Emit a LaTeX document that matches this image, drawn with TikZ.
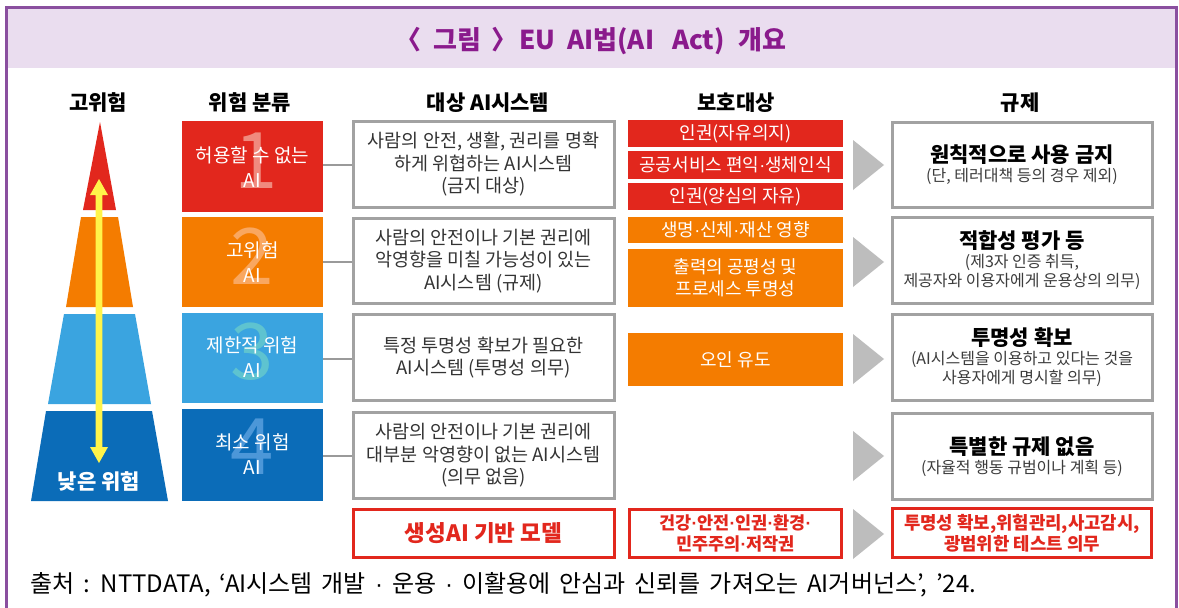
\documentclass[tikz,border=0pt]{standalone}
\usepackage{fontspec}
\setmainfont{Noto Sans CJK KR}
\newfontfamily\lat{Liberation Sans}
\newcommand{\myfs}[2]{\fontsize{#1}{#2}\selectfont}
\newcommand{\md}{{\lat ·}}
\definecolor{framepurple}{HTML}{8A4F9F}
\definecolor{band}{HTML}{EADDEF}
\definecolor{titlepurple}{HTML}{8A1A8C}
\definecolor{redA}{HTML}{E2271D}
\definecolor{orangeA}{HTML}{F47C00}
\definecolor{blueL}{HTML}{3AA4E0}
\definecolor{blueD}{HTML}{0B6CB8}
\definecolor{yel}{HTML}{FFF44A}
\definecolor{boxgrey}{HTML}{A2A2A2}
\definecolor{conngrey}{HTML}{9A9A9A}
\definecolor{trigrey}{HTML}{BDBDBD}
\definecolor{textgrey}{HTML}{333333}
\definecolor{subgrey}{HTML}{3C3C3C}
\definecolor{nA}{HTML}{F08A7E}
\definecolor{nB}{HTML}{F9A760}
\definecolor{nC}{HTML}{5EC3D0}
\definecolor{nD}{HTML}{4C97D8}
\tikzset{
 hdr/.style={font=\myfs{21}{24}\bfseries, text=black},
 catbox/.style={minimum width=141, minimum height=90, inner sep=0},
 numlbl/.style={font=\myfs{78}{78}, inner sep=0},
 cattxt/.style={text=white, align=center, font=\myfs{19}{25}, inner sep=0},
 sysbox/.style={draw=boxgrey, line width=3, fill=white, minimum width=261, inner sep=0, align=center, text=textgrey, font=\myfs{18.5}{22.5}},
 probox/.style={minimum width=215, inner sep=0, align=center, text=white, font=\myfs{18}{22}},
 regbox/.style={draw=boxgrey, line width=3, fill=white, minimum width=260, inner sep=0, align=center, text=subgrey, font=\myfs{16}{19}},
 redbox/.style={draw=redA, line width=3, fill=white, inner sep=0, align=center, text=redA, font=\myfs{17.5}{21.5}\bfseries},
 conn/.style={draw=conngrey, line width=2},
 tri/.style={fill=trigrey},
}
\newcommand{\regt}[1]{{\myfs{21}{24}\bfseries\color{black}#1}}
\begin{document}
\begin{tikzpicture}[x=1pt,y=-1pt]
\useasboundingbox (0,0) rectangle (1179,608);
\fill[white] (0,0) rectangle (1179,608);
\fill[band] (8,9) rectangle (1175,67.5);
\draw[framepurple, line width=3] (6.5,608) -- (6.5,7.5) -- (1176.5,7.5) -- (1176.5,608);
\node[text=titlepurple, font=\myfs{26}{28}\bfseries, inner sep=0] (title) at (591,41) {〈\hspace{12pt}그림\hspace{10pt}〉\hspace{2pt}EU\hspace{12pt}AI법(AI\hspace{18pt}Act)\hspace{14pt}개요};
% headers
\node[hdr] (h1) at (98,103) {고위험};
\node[hdr] (h2) at (250,103) {위험 분류};
\node[hdr] (h3) at (488,103) {대상 AI시스템};
\node[hdr] (h4) at (736,103) {보호대상};
\node[hdr] (h5) at (1020,103) {규제};
% pyramid
\fill[redA] (100,122) -- (116,210) -- (83,210) -- cycle;
\fill[orangeA] (81,217) -- (118,217) -- (133,307) -- (66,307) -- cycle;
\fill[blueL] (64,314) -- (135,314) -- (151,404) -- (48,404) -- cycle;
\fill[blueD] (46,411) -- (152,411) -- (168,501) -- (31,501) -- cycle;
\fill[yel] (99,179) -- (108,195) -- (102.3,195) -- (102.3,447) -- (108,447) -- (99,463) -- (90,447) -- (95.7,447) -- (95.7,195) -- (90,195) -- cycle;
\node[text=white, font=\myfs{21}{24}\bfseries] (low) at (99,482) {낮은 위험};
% categories
\node[catbox, fill=redA, minimum height=91] (c1) at (252.5,166.5) {};
\node[catbox, fill=orangeA] (c2) at (252.5,262) {};
\node[catbox, fill=blueL] (c3) at (252.5,358) {};
\node[catbox, fill=blueD, minimum height=92] (c4) at (252.5,455) {};
\node[numlbl, text=nA] (n1) at (256,161) {1};
\node[numlbl, text=nB] (n2) at (252.5,256) {2};
\node[numlbl, text=nC] (n3) at (252.5,352) {3};
\node[numlbl, text=nD] (n4) at (252.5,447) {4};
\node[cattxt] (t1) at (252.5,167.5) {허용할 수 없는\\AI};
\node[cattxt] (t2) at (252.5,262.5) {고위험\\AI};
\node[cattxt] (t3) at (252.5,357.5) {제한적 위험\\AI};
\node[cattxt] (t4) at (252.5,454.5) {최소 위험\\AI};
% systems
\node[sysbox, minimum height=86] (s1) at (483.5,164.5) {사람의 안전, 생활, 권리를 명확\\하게 위협하는 AI시스템\\(금지 대상)};
\node[sysbox, minimum height=85] (s2) at (483.5,261) {사람의 안전이나 기본 권리에\\악영향을 미칠 가능성이 있는\\AI시스템 (규제)};
\node[sysbox, minimum height=86] (s3) at (483.5,357.5) {특정 투명성 확보가 필요한\\AI시스템 (투명성 의무)};
\node[sysbox, minimum height=86] (s4) at (483.5,455.5) {사람의 안전이나 기본 권리에\\대부분 악영향이 없는 AI시스템\\(의무 없음)};
\node[redbox, minimum width=261, minimum height=48, font=\myfs{22.5}{26}\bfseries] (s5) at (483.5,533.5) {생성AI 기반 모델};
% connectors
\draw[conn] (c1.east |- 0,165) -- (s1.west |- 0,165);
\draw[conn] (c2.east |- 0,262) -- (s2.west |- 0,262);
\draw[conn] (c3.east |- 0,359) -- (s3.west |- 0,359);
\draw[conn] (c4.east |- 0,456) -- (s4.west |- 0,456);
% protected
\node[probox, fill=redA, minimum height=27] (p1) at (735.5,133.5) {인권(자유의지)};
\node[probox, fill=redA, minimum height=28] (p2) at (735.5,165) {공공서비스 편익\md 생체인식};
\node[probox, fill=redA, minimum height=27] (p3) at (735.5,196.5) {인권(양심의 자유)};
\node[probox, fill=orangeA, minimum height=26] (p4) at (735.5,230) {생명\md 신체\md 재산 영향};
\node[probox, fill=orangeA, minimum height=58] (p5) at (735.5,278) {출력의 공평성 및\\프로세스 투명성};
\node[probox, fill=orangeA, minimum height=53] (p6) at (735.5,359.5) {오인 유도};
\node[redbox, minimum width=212, minimum height=48] (p7) at (735.5,533.5) {건강\md 안전\md 인권\md 환경\md\\민주주의\md 저작권};
% regulation
\node[regbox, minimum height=85] (r1) at (1022,165) {\regt{원칙적으로 사용 금지}\\(단, 테러대책 등의 경우 제외)};
\node[regbox, minimum height=86] (r2) at (1022,260.5) {\regt{적합성 평가 등}\\(제3자 인증 취득,\\제공자와 이용자에게 운용상의 의무)};
\node[regbox, minimum height=86] (r3) at (1022,357.5) {\regt{투명성 확보}\\(AI시스템을 이용하고 있다는 것을\\사용자에게 명시할 의무)};
\node[regbox, minimum height=86] (r4) at (1022,456.5) {\regt{특별한 규제 없음}\\(자율적 행동 규범이나 계획 등)};
\node[redbox, minimum width=259, minimum height=49, font=\myfs{17.8}{21}\bfseries] (r5) at (1022,533) {투명성 확보,위험관리,사고감시,\\광범위한 테스트 의무};
% triangles
\foreach \yy in {165,262,359,456,534}{
  \fill[tri] (853,\yy-25) -- (884,\yy) -- (853,\yy+25) -- cycle;
}
% footer
\node[anchor=west, inner sep=0, text=black, font=\myfs{24}{26}] (src) at (30,585) {\spaceskip=9pt 출처 : NTTDATA, ‘AI시스템 개발 \md\ 운용 \md\ 이활용에 안심과 신뢰를 가져오는 AI거버넌스’, ’24.};
\end{tikzpicture}
\end{document}
